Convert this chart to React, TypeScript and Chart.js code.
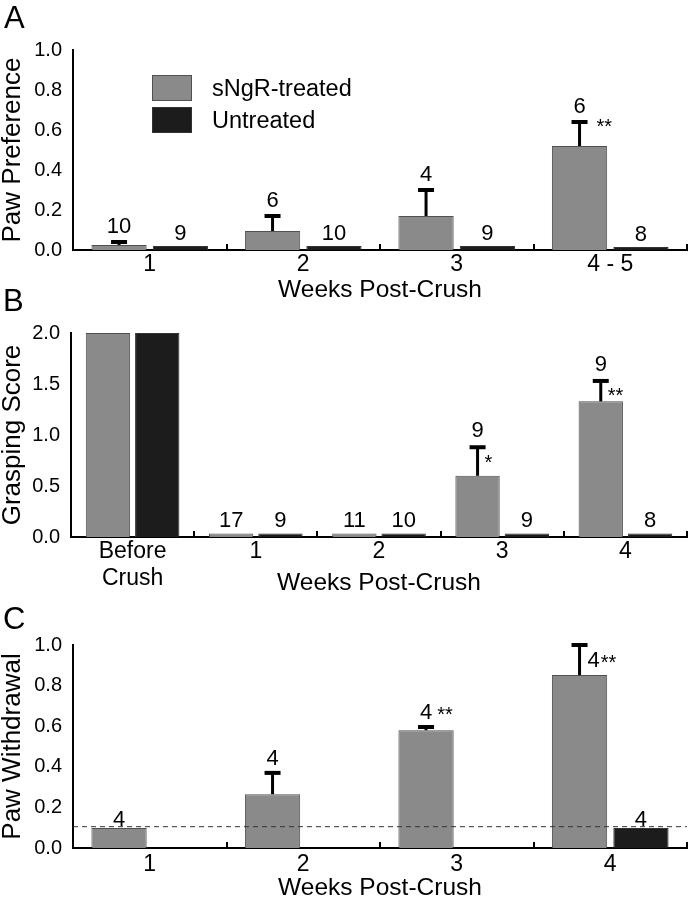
import React, { useEffect, useRef } from 'react';
import { Chart, registerables } from 'chart.js';

Chart.register(...registerables);

const FONT = "'Liberation Sans', Arial, Helvetica, sans-serif";
const GRAY = '#8a8a8a';
const GRAY_BORDER = '#505050';
const BLACK = '#1c1c1c';
const BLACK_BORDER = '#333333';
const SERIES = ['sNgR-treated', 'Untreated'];
const X_TITLE = 'Weeks Post-Crush';

// ---------- Panel A ----------
const catsA = ['1', '2', '3', '4 - 5'];
const treatedA = [0.025, 0.095, 0.17, 0.52];
const treatedErrA = [0.04, 0.17, 0.3, 0.64];
const untreatedA = [0.02, 0.02, 0.02, 0.015];
const treatedNA = ['10', '6', '4', '6'];
const untreatedNA = ['9', '10', '9', '8'];
const treatedSigA = ['', '', '', '**'];
const yTicksA = [0, 0.2, 0.4, 0.6, 0.8, 1.0];

// ---------- Panel B ----------
const catsB = [['Before', 'Crush'], '1', '2', '3', '4'];
const treatedB = [2.0, 0.035, 0.035, 0.6, 1.33];
const treatedErrB = [null, null, null, 0.88, 1.53];
const untreatedB = [2.0, 0.035, 0.035, 0.035, 0.035];
const treatedNB = ['', '17', '11', '9', '9'];
const untreatedNB = ['', '9', '10', '9', '8'];
const treatedSigB = ['', '', '', '*', '**'];
const yTicksB = [0, 0.5, 1.0, 1.5, 2.0];

// ---------- Panel C ----------
const catsC = ['1', '2', '3', '4'];
const treatedC = [0.098, 0.265, 0.58, 0.852];
const treatedErrC = [null, 0.37, 0.596, 1.0];
const untreatedC = [null, null, null, 0.098];
const treatedNC = ['4', '4', '4', '4'];
const untreatedNC = ['', '', '', '4'];
const treatedSigC = ['', '', '**', '**'];
const baselineC = 0.105;
const yTicksC = [0, 0.2, 0.4, 0.6, 0.8, 1.0];

type Panel = {
  key: string;
  letter: string;
  letterPos: [number, number];
  cats: any[];
  treated: (number | null)[];
  untreated: (number | null)[];
  err: (number | null)[];
  nT: string[];
  nU: string[];
  sig: string[];
  nPlace: string[];
  sigPlace: string[];
  yTicks: number[];
  yMax: number;
  yTitle: string;
  yW: number;
  pad: { top: number; right: number; bottom: number; left: number };
  xH: number;
  xPad: number;
  gapBar: number;
  gapErr: number;
  baseline?: number;
  legend?: { dx: number; dy: number };
};

const panels: Panel[] = [
  {
    key: 'A', letter: 'A', letterPos: [4, 17],
    cats: catsA, treated: treatedA, untreated: untreatedA, err: treatedErrA,
    nT: treatedNA, nU: untreatedNA, sig: treatedSigA,
    nPlace: ['top', 'top', 'top', 'top'], sigPlace: ['', '', '', 'cap'],
    yTicks: yTicksA, yMax: 1, yTitle: 'Paw Preference', yW: 73,
    pad: { top: 50, right: 1, bottom: 598, left: 0 }, xH: 52, xPad: 7,
    gapBar: 14, gapErr: 17, legend: { dx: 79, dy: 25 },
  },
  {
    key: 'B', letter: 'B', letterPos: [3, 300],
    cats: catsB, treated: treatedB, untreated: untreatedB, err: treatedErrB,
    nT: treatedNB, nU: untreatedNB, sig: treatedSigB,
    nPlace: ['top', 'top', 'top', 'top', 'top'], sigPlace: ['', '', '', 'line', 'line'],
    yTicks: yTicksB, yMax: 2, yTitle: 'Grasping Score', yW: 71,
    pad: { top: 333, right: 1, bottom: 305, left: 0 }, xH: 58, xPad: 7,
    gapBar: 14, gapErr: 18,
  },
  {
    key: 'C', letter: 'C', letterPos: [3, 618],
    cats: catsC, treated: treatedC, untreated: untreatedC, err: treatedErrC,
    nT: treatedNC, nU: untreatedNC, sig: treatedSigC,
    nPlace: ['top', 'top', 'top', 'right'], sigPlace: ['', '', 'after', 'after'],
    yTicks: yTicksC, yMax: 1, yTitle: 'Paw Withdrawal', yW: 73,
    pad: { top: 645, right: 1, bottom: 0, left: 0 }, xH: 52, xPad: 9,
    gapBar: 10, gapErr: 16, baseline: baselineC,
  },
];

function makeDecor(p: Panel) {
  return {
    id: 'decor' + p.key,
    afterDatasetsDraw(chart: any) {
      const ctx = chart.ctx as CanvasRenderingContext2D;
      const ca = chart.chartArea;
      const ys = chart.scales.y;
      ctx.save();

      // panel letter
      ctx.fillStyle = '#000';
      ctx.font = `31px ${FONT}`;
      ctx.textAlign = 'left';
      ctx.textBaseline = 'alphabetic';
      ctx.fillText(p.letter, p.letterPos[0], p.letterPos[1] + 0.358 * 31);

      // dashed reference line
      if (p.baseline != null) {
        const yb = ys.getPixelForValue(p.baseline);
        ctx.save();
        ctx.setLineDash([5, 4]);
        ctx.lineWidth = 1;
        ctx.strokeStyle = '#333';
        ctx.beginPath();
        ctx.moveTo(ca.left, yb);
        ctx.lineTo(ca.right, yb);
        ctx.stroke();
        ctx.restore();
      }

      const m0 = chart.getDatasetMeta(0);
      const m1 = chart.getDatasetMeta(1);

      // error bars
      ctx.strokeStyle = '#000';
      ctx.lineCap = 'butt';
      p.err.forEach((e, i) => {
        if (e == null || p.treated[i] == null) return;
        const bar = m0.data[i];
        const x = bar.x;
        const yE = ys.getPixelForValue(e);
        ctx.lineWidth = 3;
        ctx.beginPath();
        ctx.moveTo(x, bar.y);
        ctx.lineTo(x, yE);
        ctx.stroke();
        ctx.lineWidth = 4;
        ctx.beginPath();
        ctx.moveTo(x - 8, yE);
        ctx.lineTo(x + 8, yE);
        ctx.stroke();
      });

      // n labels and significance marks
      const NS = 22;
      const SS = 20;
      const drawLabels = (meta: any, ns: string[], isT: boolean) => {
        ns.forEach((txt, i) => {
          const bar = meta.data[i];
          if (!bar) return;
          const vals = isT ? p.treated : p.untreated;
          if (vals[i] == null) return;
          const e = isT ? p.err[i] : null;
          const x = bar.x;
          const yE = e != null ? ys.getPixelForValue(e) : bar.y;
          const place = isT ? p.nPlace[i] : 'top';
          ctx.font = `${NS}px ${FONT}`;
          ctx.fillStyle = '#000';
          ctx.textBaseline = 'alphabetic';
          let rightEdge = x;
          let baseY = 0;
          if (txt) {
            const w = ctx.measureText(txt).width;
            if (place === 'right') {
              const cy = yE + 14;
              baseY = cy + 0.358 * NS;
              ctx.textAlign = 'left';
              ctx.fillText(txt, x + 8, baseY);
              rightEdge = x + 8 + w;
            } else {
              const cy = e != null ? yE - p.gapErr : bar.y - p.gapBar;
              baseY = cy + 0.358 * NS;
              ctx.textAlign = 'center';
              ctx.fillText(txt, x, baseY);
              rightEdge = x + w / 2;
            }
          }
          if (isT && p.sig[i]) {
            const s = p.sig[i];
            const sp = p.sigPlace[i];
            ctx.font = `${SS}px ${FONT}`;
            ctx.textAlign = 'left';
            if (sp === 'cap') {
              ctx.fillText(s, x + 17, yE + 0.57 * SS);
            } else if (sp === 'line') {
              ctx.fillText(s, x + 7, yE + 10 + 0.57 * SS);
            } else {
              const gap = place === 'right' ? 1 : 5;
              ctx.fillText(s, rightEdge + gap, baseY + 2);
            }
          }
        });
      };
      drawLabels(m0, p.nT, true);
      drawLabels(m1, p.nU, false);

      // legend
      if (p.legend) {
        chart.data.datasets.forEach((ds: any, k: number) => {
          const bx = ca.left + p.legend!.dx;
          const by = ca.top + p.legend!.dy + k * 32;
          ctx.fillStyle = ds.backgroundColor;
          ctx.fillRect(bx, by, 40, 26);
          ctx.strokeStyle = ds.borderColor;
          ctx.lineWidth = 1;
          ctx.strokeRect(bx + 0.5, by + 0.5, 39, 25);
          ctx.fillStyle = '#000';
          ctx.font = `23.5px ${FONT}`;
          ctx.textAlign = 'left';
          ctx.textBaseline = 'alphabetic';
          ctx.fillText(ds.label, bx + 60, by + 13 + 0.358 * 23.5);
        });
      }
      ctx.restore();
    },
  };
}

function buildConfig(p: Panel): any {
  return {
    type: 'bar',
    data: {
      labels: p.cats,
      datasets: [
        {
          label: SERIES[0], data: p.treated,
          backgroundColor: GRAY, borderColor: GRAY_BORDER, borderWidth: 1,
          categoryPercentage: 0.8, barPercentage: 0.9,
        },
        {
          label: SERIES[1], data: p.untreated,
          backgroundColor: BLACK, borderColor: BLACK_BORDER, borderWidth: 1,
          categoryPercentage: 0.8, barPercentage: 0.9,
        },
      ],
    },
    options: {
      responsive: false,
      animation: false,
      events: [],
      layout: { padding: p.pad },
      plugins: { legend: { display: false }, tooltip: { enabled: false }, title: { display: false } },
      scales: {
        x: {
          afterFit: (s: any) => { s.height = p.xH; },
          grid: {
            display: true, drawOnChartArea: false, drawTicks: true, tickLength: -6,
            color: '#000', lineWidth: 2, offset: true,
          },
          border: { display: true, color: '#000', width: 2 },
          ticks: {
            padding: p.xPad, color: '#000', maxRotation: 0, autoSkip: false,
            font: { family: FONT, size: 23, lineHeight: 1.17 },
          },
          title: {
            display: true, text: X_TITLE, color: '#000', padding: 0,
            font: { family: FONT, size: 24.5, lineHeight: 1 },
          },
        },
        y: {
          min: 0, max: p.yMax,
          afterFit: (s: any) => { s.width = p.yW; },
          afterBuildTicks: (s: any) => { s.ticks = p.yTicks.map((v) => ({ value: v })); },
          grid: { display: false, drawTicks: false },
          border: { display: true, color: '#000', width: 2 },
          ticks: {
            padding: 11, color: '#000',
            font: { family: FONT, size: 20 },
            callback: (v: any) => Number(v).toFixed(1),
          },
          title: {
            display: true, text: p.yTitle, color: '#000', padding: 0,
            font: { family: FONT, size: 26, lineHeight: 1 },
          },
        },
      },
    },
    plugins: [makeDecor(p)],
  };
}

function PanelCanvas({ p }: { p: Panel }) {
  const ref = useRef<HTMLCanvasElement | null>(null);
  useEffect(() => {
    if (!ref.current) return;
    const chart = new Chart(ref.current, buildConfig(p));
    return () => chart.destroy();
  }, [p]);
  return (
    <canvas
      ref={ref}
      width={688}
      height={900}
      style={{ position: 'absolute', left: 0, top: 0, width: 688, height: 900 }}
    />
  );
}

export default function App() {
  return (
    <div style={{ position: 'absolute', left: 0, top: 0, width: 688, height: 900, background: '#fff' }}>
      {panels.map((p) => (
        <PanelCanvas key={p.key} p={p} />
      ))}
    </div>
  );
}
